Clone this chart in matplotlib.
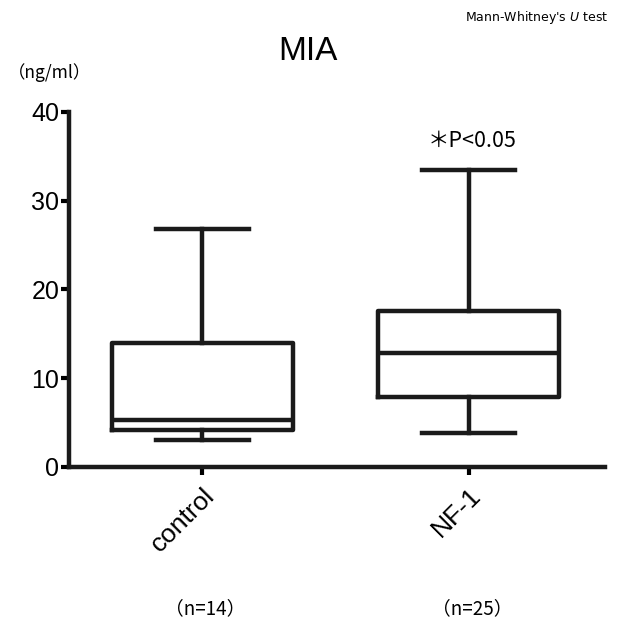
import matplotlib
matplotlib.use("Agg")
import matplotlib.pyplot as plt

plt.rcParams['font.family'] = ['Liberation Sans', 'DejaVu Sans']

groups = ["control", "NF-1"]
n_labels = ["（n=14）", "（n=25）"]
whisker_low = [3.0, 3.8]
q1 = [4.2, 7.9]
median = [5.3, 12.8]
q3 = [14.0, 17.6]
whisker_high = [26.8, 33.5]

stats = []
for i, g in enumerate(groups):
    stats.append(dict(label=g, whislo=whisker_low[i], q1=q1[i], med=median[i],
                      q3=q3[i], whishi=whisker_high[i], fliers=[]))

fig = plt.figure(figsize=(6.17, 6.29), dpi=100)
ax = fig.add_axes([0.112, 0.2576, 0.868, 0.5644])

lw = 3.2
ax.bxp(stats, positions=[1, 2], widths=0.68, showfliers=False,
       boxprops=dict(linewidth=lw, color='#1a1a1a'),
       medianprops=dict(linewidth=lw, color='#1a1a1a'),
       whiskerprops=dict(linewidth=lw, color='#1a1a1a'),
       capprops=dict(linewidth=lw, color='#1a1a1a'),
       capwidths=0.35)

ax.set_xlim(0.5, 2.51)
ax.set_ylim(0, 40)
ax.set_yticks([0, 10, 20, 30, 40])
ax.tick_params(axis='y', labelsize=18, width=3, length=6, direction='out', pad=1)
ax.tick_params(axis='x', width=3, length=6, direction='out', pad=6)
ax.set_xticks([1, 2])
ax.set_xticklabels(groups, rotation=45, ha='right', rotation_mode='anchor', fontsize=19)
for s in ['top', 'right']:
    ax.spines[s].set_visible(False)
for s in ['left', 'bottom']:
    ax.spines[s].set_linewidth(3.2)
    ax.spines[s].set_color('#1a1a1a')

fig.text(0.499, 0.918, "MIA", ha='center', va='center', fontsize=24)
fig.text(0.012, 0.885, "（ng/ml）", ha='left', va='center', fontsize=12.5,
         family=['Noto Sans CJK JP', 'DejaVu Sans'])
fig.text(0.985, 0.972, "Mann-Whitney's $\\it{U}$ test", ha='right', va='center',
         fontsize=9, family=['DejaVu Sans'])
fig.text(0.765, 0.776, "＊P<0.05", ha='center', va='center', fontsize=15.5,
         family=['Noto Sans CJK JP', 'DejaVu Sans'])
for i, t in enumerate(n_labels):
    x = [0.333, 0.765][i]
    fig.text(x, 0.033, t, ha='center', va='center', fontsize=13.5,
             family=['Noto Sans CJK JP', 'DejaVu Sans'])

fig.savefig("out.png", dpi=100)
